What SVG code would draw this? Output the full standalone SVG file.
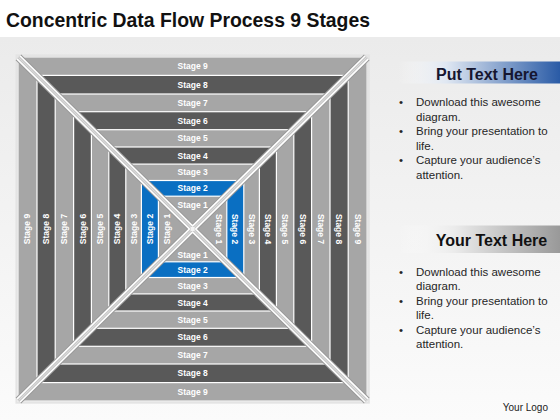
<svg xmlns="http://www.w3.org/2000/svg" width="560" height="420" viewBox="0 0 560 420">
<defs>
<linearGradient id="bg" x1="0" y1="0" x2="0" y2="1">
<stop offset="0" stop-color="#ebebeb"/>
<stop offset="1" stop-color="#fbfbfb"/>
</linearGradient>
<linearGradient id="blueBar" x1="0" y1="0" x2="1" y2="0">
<stop offset="0" stop-color="#ffffff" stop-opacity="0"/>
<stop offset="0.3" stop-color="#dfe7f2"/>
<stop offset="1" stop-color="#2a5ba6"/>
</linearGradient>
<linearGradient id="grayBar" x1="0" y1="0" x2="1" y2="0">
<stop offset="0" stop-color="#ffffff" stop-opacity="0"/>
<stop offset="0.35" stop-color="#ebebeb"/>
<stop offset="1" stop-color="#999999"/>
</linearGradient>
<style>
.light{fill:#a6a6a6;stroke:#ffffff;stroke-width:1.2}
.dark{fill:#595959;stroke:#ffffff;stroke-width:1.2}
.blue{fill:#0a6fc2;stroke:#ffffff;stroke-width:1.2}
.lbl{font-family:"Liberation Sans",Arial,sans-serif;font-size:8.5px;font-weight:bold;fill:#ffffff;text-anchor:middle}
.head{font-family:"Liberation Sans",Arial,sans-serif;font-size:16px;font-weight:bold;text-anchor:middle}
.body{font-family:"Liberation Sans",Arial,sans-serif;font-size:11.5px;fill:#262626}
.d1{stroke:#9a9a9a;stroke-width:8;fill:none}
.d2{stroke:#ffffff;stroke-width:6;fill:none}
.d3{stroke:#c8c8c8;stroke-width:3;fill:none}
.d4{stroke:#dedede;stroke-width:1;fill:none}
</style>
</defs>
<rect x="0" y="0" width="560" height="420" fill="#ffffff"/>
<rect x="0" y="37" width="560" height="383" fill="url(#bg)"/>
<text x="6" y="27" font-family="'Liberation Sans',Arial,sans-serif" font-size="21" font-weight="bold" fill="#111111" textLength="364" lengthAdjust="spacingAndGlyphs">Concentric Data Flow Process 9 Stages</text>

<g id="diagram">
<rect x="16.4" y="55.3" width="352.4" height="347.4" fill="none" stroke="#e4e4e4" stroke-width="2"/>
<g id="stage9"><rect class="light" x="18.4" y="57.3" width="348.4" height="343.4" style="stroke:#d6d6d6"/></g>
<g id="stage8"><rect class="dark" x="37.0" y="75.4" width="311.2" height="307.2"/></g>
<g id="stage7"><rect class="light" x="55.2" y="94.0" width="274.8" height="270.0"/></g>
<g id="stage6"><rect class="dark" x="73.6" y="111.7" width="238" height="234.6"/></g>
<g id="stage5"><rect class="light" x="91.4" y="129.7" width="202.4" height="198.6"/></g>
<g id="stage4"><rect class="dark" x="108.8" y="147.0" width="167.6" height="164"/></g>
<g id="stage3"><rect class="light" x="125.8" y="164.1" width="133.6" height="129.8"/></g>
<g id="stage2"><rect class="blue" x="141.4" y="180.5" width="102.4" height="97"/></g>
<g id="stage1"><rect class="light" x="158.4" y="196.2" width="68.4" height="65.6"/></g>
</g>

<g id="connectors">
<path class="d1" d="M18.4 57.3 L366.8 400.7 M366.8 57.3 L18.4 400.7"/>
<path class="d2" d="M18.4 57.3 L366.8 400.7 M366.8 57.3 L18.4 400.7"/>
<path class="d3" d="M18.4 57.3 L366.8 400.7 M366.8 57.3 L18.4 400.7"/>
<path class="d4" d="M18.4 57.3 L366.8 400.7 M366.8 57.3 L18.4 400.7"/>
<rect x="190.6" y="227" width="4" height="4" fill="#f4f4f4"/>
</g>

<g id="labels-top">
<text class="lbl" x="192.6" y="69">Stage 9</text>
<text class="lbl" x="192.6" y="87.7">Stage 8</text>
<text class="lbl" x="192.6" y="105.9">Stage 7</text>
<text class="lbl" x="192.6" y="123.7">Stage 6</text>
<text class="lbl" x="192.6" y="141.4">Stage 5</text>
<text class="lbl" x="192.6" y="158.6">Stage 4</text>
<text class="lbl" x="192.6" y="175.3">Stage 3</text>
<text class="lbl" x="192.6" y="191.4">Stage 2</text>
<text class="lbl" x="192.6" y="207.5">Stage 1</text>
</g>
<g id="labels-bottom">
<text class="lbl" x="192.6" y="257.5">Stage 1</text>
<text class="lbl" x="192.6" y="272.7">Stage 2</text>
<text class="lbl" x="192.6" y="288.7">Stage 3</text>
<text class="lbl" x="192.6" y="305.5">Stage 4</text>
<text class="lbl" x="192.6" y="322.7">Stage 5</text>
<text class="lbl" x="192.6" y="340.3">Stage 6</text>
<text class="lbl" x="192.6" y="358.2">Stage 7</text>
<text class="lbl" x="192.6" y="376.3">Stage 8</text>
<text class="lbl" x="192.6" y="395">Stage 9</text>
</g>
<g id="labels-left">
<text class="lbl" transform="translate(27.4,229) rotate(-90)" y="3">Stage 9</text>
<text class="lbl" transform="translate(46.1,229) rotate(-90)" y="3">Stage 8</text>
<text class="lbl" transform="translate(64.4,229) rotate(-90)" y="3">Stage 7</text>
<text class="lbl" transform="translate(82.5,229) rotate(-90)" y="3">Stage 6</text>
<text class="lbl" transform="translate(100.1,229) rotate(-90)" y="3">Stage 5</text>
<text class="lbl" transform="translate(117.3,229) rotate(-90)" y="3">Stage 4</text>
<text class="lbl" transform="translate(133.6,229) rotate(-90)" y="3">Stage 3</text>
<text class="lbl" transform="translate(149.9,229) rotate(-90)" y="3">Stage 2</text>
<text class="lbl" transform="translate(167,229) rotate(-90)" y="3">Stage 1</text>
</g>
<g id="labels-right">
<text class="lbl" transform="translate(218.5,229) rotate(90)" y="3">Stage 1</text>
<text class="lbl" transform="translate(235.3,229) rotate(90)" y="3">Stage 2</text>
<text class="lbl" transform="translate(251.6,229) rotate(90)" y="3">Stage 3</text>
<text class="lbl" transform="translate(267.9,229) rotate(90)" y="3">Stage 4</text>
<text class="lbl" transform="translate(285.1,229) rotate(90)" y="3">Stage 5</text>
<text class="lbl" transform="translate(302.7,229) rotate(90)" y="3">Stage 6</text>
<text class="lbl" transform="translate(320.8,229) rotate(90)" y="3">Stage 7</text>
<text class="lbl" transform="translate(339.1,229) rotate(90)" y="3">Stage 8</text>
<text class="lbl" transform="translate(357.8,229) rotate(90)" y="3">Stage 9</text>
</g>

<g id="panel-put">
<rect x="398" y="61.5" width="162" height="22" fill="url(#blueBar)"/>
<text class="head" x="487" y="80" fill="#161630">Put Text Here</text>
<text class="body" x="399" y="106">•</text>
<text class="body" x="416" y="106">Download this awesome</text>
<text class="body" x="416" y="120.5">diagram.</text>
<text class="body" x="399" y="135">•</text>
<text class="body" x="416" y="135">Bring your presentation  to</text>
<text class="body" x="416" y="149.5">life.</text>
<text class="body" x="399" y="164">•</text>
<text class="body" x="416" y="164">Capture your audience’s</text>
<text class="body" x="416" y="178.5">attention.</text>
</g>

<g id="panel-your">
<rect x="398" y="225.5" width="162" height="27.5" fill="url(#grayBar)"/>
<text class="head" x="491.5" y="246" fill="#111111">Your Text Here</text>
<text class="body" x="399" y="275.5">•</text>
<text class="body" x="416" y="275.5">Download this awesome</text>
<text class="body" x="416" y="290">diagram.</text>
<text class="body" x="399" y="304.5">•</text>
<text class="body" x="416" y="304.5">Bring your presentation  to</text>
<text class="body" x="416" y="319">life.</text>
<text class="body" x="399" y="333.5">•</text>
<text class="body" x="416" y="333.5">Capture your audience’s</text>
<text class="body" x="416" y="348">attention.</text>
</g>

<text id="logo" x="548" y="410.5" font-family="'Liberation Sans',Arial,sans-serif" font-size="10" fill="#222222" text-anchor="end">Your Logo</text>
</svg>
